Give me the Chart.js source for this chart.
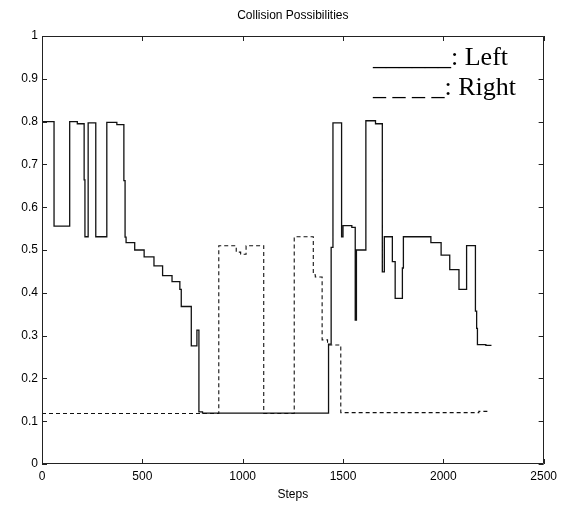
<!DOCTYPE html>
<html><head><meta charset="utf-8">
<script src="https://cdn.jsdelivr.net/npm/chart.js@4/dist/chart.umd.min.js"></script>
<style>html,body{margin:0;padding:0;background:#fff}</style>
</head><body>
<canvas id="c" width="562" height="510"></canvas>
<script>
// ---- data (step start positions and held values) ----
const leftSteps  = [0, 60, 138, 176, 210, 214, 230, 268, 323, 373, 408, 414, 419, 462, 509, 558, 601, 648, 687, 694, 744, 772, 782, 800, 1428, 1441, 1450, 1493, 1500, 1544, 1561, 1567, 1614, 1662, 1696, 1706, 1746, 1760, 1796, 1801, 1938, 1989, 2032, 2078, 2116, 2160, 2166, 2170, 2212, 2240];
const leftValues = [0.80, 0.556, 0.80, 0.795, 0.664, 0.531, 0.797, 0.531, 0.798, 0.793, 0.662, 0.530, 0.517, 0.500, 0.484, 0.463, 0.440, 0.426, 0.408, 0.368, 0.276, 0.313, 0.122, 0.119, 0.280, 0.506, 0.797, 0.531, 0.557, 0.553, 0.336, 0.500, 0.802, 0.795, 0.449, 0.531, 0.473, 0.387, 0.458, 0.531, 0.517, 0.488, 0.454, 0.408, 0.510, 0.357, 0.317, 0.279, 0.277, 0.277];
const rightSteps  = [0, 881, 968, 990, 1017, 1105, 1257, 1352, 1362, 1396, 1423, 1489, 2177, 2227];
const rightValues = [0.118, 0.510, 0.495, 0.490, 0.510, 0.118, 0.531, 0.442, 0.437, 0.290, 0.278, 0.120, 0.123, 0.123];
const xTicks = [0, 500, 1000, 1500, 2000, 2500];
const yTicks = [0, 0.1, 0.2, 0.3, 0.4, 0.5, 0.6, 0.7, 0.8, 0.9, 1];
const yTickLabels = ['0', '0.1', '0.2', '0.3', '0.4', '0.5', '0.6', '0.7', '0.8', '0.9', '1'];
const seriesNames = ['Left', 'Right'];
const chartTitle = 'Collision Possibilities';
const xTitle = 'Steps';

const toPoints = (xs, ys) => xs.map((v, i) => ({x: v, y: ys[i]}));

const framePlugin = {
  id: 'frame',
  afterDatasetsDraw(chart) {
    const {ctx, chartArea: a, scales: {x, y}} = chart;
    ctx.save();
    ctx.strokeStyle = '#222';
    ctx.lineWidth = 1;
    ctx.beginPath();
    ctx.rect(Math.round(a.left) + 0.5, Math.round(a.top) + 0.5, Math.round(a.right - a.left) - 1, Math.round(a.bottom - a.top) - 1);
    const tl = 5;
    xTicks.forEach(v => {
      const px = Math.round(x.getPixelForValue(v)) + 0.5;
      ctx.moveTo(px, a.bottom); ctx.lineTo(px, a.bottom - tl);
      ctx.moveTo(px, a.top); ctx.lineTo(px, a.top + tl);
    });
    yTicks.forEach(v => {
      const py = Math.round(y.getPixelForValue(v)) + 0.5;
      ctx.moveTo(a.left, py); ctx.lineTo(a.left + tl, py);
      ctx.moveTo(a.right, py); ctx.lineTo(a.right - tl, py);
    });
    ctx.stroke();
    // title, centred over the plot box
    ctx.fillStyle = '#000';
    ctx.font = '12px "Liberation Sans", Arial, sans-serif';
    ctx.textAlign = 'center';
    ctx.textBaseline = 'middle';
    ctx.fillText(chartTitle, (a.left + a.right) / 2, 16);
    // legend text, drawn as in the reference
    ctx.font = '26px "Liberation Serif", "Times New Roman", serif';
    ctx.textAlign = 'left';
    ctx.textBaseline = 'alphabetic';
    ctx.fillText('______: ' + seriesNames[0], 373, 65);
    ctx.fillText('_ _ _ _: ' + seriesNames[1], 373, 95);
    ctx.restore();
  }
};

new Chart(document.getElementById('c'), {
  type: 'line',
  data: {
    datasets: [
      {label: seriesNames[0], data: toPoints(leftSteps, leftValues), stepped: 'before',
       borderColor: '#111', borderWidth: 1.3, pointRadius: 0, fill: false},
      {label: seriesNames[1], data: toPoints(rightSteps, rightValues), stepped: 'before',
       borderColor: '#111', borderWidth: 1.1, borderDash: [4, 3], pointRadius: 0, fill: false}
    ]
  },
  options: {
    responsive: false,
    animation: false,
    devicePixelRatio: 1,
    layout: {padding: {left: 0, right: 17, top: 36, bottom: 0}},
    plugins: {
      legend: {display: false},
      tooltip: {enabled: false},
      title: {display: false}
    },
    scales: {
      x: {
        type: 'linear', min: 0, max: 2500,
        afterBuildTicks: s => { s.ticks = xTicks.map(v => ({value: v})); },
        afterFit: s => { s.height = 46; },
        grid: {display: false, drawTicks: false},
        border: {display: false},
        ticks: {color: '#000', padding: 5, maxRotation: 0, autoSkip: false,
                font: {family: '"Liberation Sans", Arial, sans-serif', size: 12},
                callback: v => String(v)},
        title: {display: true, text: xTitle, color: '#000', padding: {top: 0, bottom: 8},
                font: {family: '"Liberation Sans", Arial, sans-serif', size: 12}}
      },
      y: {
        type: 'linear', min: 0, max: 1,
        afterBuildTicks: s => { s.ticks = yTicks.map(v => ({value: v})); },
        afterFit: s => { s.width = 42; },
        grid: {display: false, drawTicks: false},
        border: {display: false},
        ticks: {color: '#000', padding: 4, autoSkip: false,
                font: {family: '"Liberation Sans", Arial, sans-serif', size: 12},
                callback: (v) => { const i = yTicks.indexOf(v); return i >= 0 ? yTickLabels[i] : ''; }}
      }
    }
  },
  plugins: [framePlugin]
});
</script>
</body></html>
